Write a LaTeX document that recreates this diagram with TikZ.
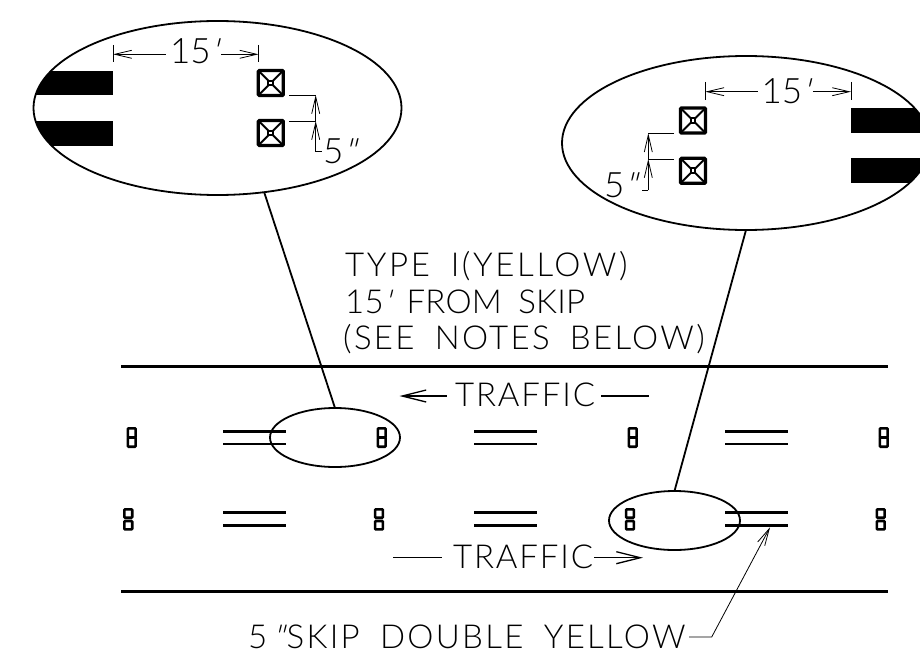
\documentclass[tikz,border=0pt]{standalone}
\usepackage{fontspec}
\usetikzlibrary{arrows.meta,shapes.geometric}
\newfontfamily\cadfont[LetterSpace=5.5,WordSpace=1.8]{Lato Light}
\newfontfamily\cadslant[FakeSlant=0.25]{Lato Light}
\newcommand{\ftmark}{{\cadslant'}}
\newcommand{\inmark}{{\cadslant"}}
\tikzset{
    lens/.style={draw, ellipse, line width=1.8pt, inner sep=0pt, outer sep=0pt},
    roadline/.style={line width=3pt},
    skipline/.style={line width=2.6pt},
    tinymark/.style={line width=2.6pt, rounded corners=0.8pt},
    dimline/.style={line width=0.8pt},
    flowline/.style={line width=1.3pt},
    dimtip/.tip={Straight Barb[length=17pt,width=8pt]},
    flowtip/.tip={Straight Barb[length=24pt,width=12pt]},
    cadtext/.style={font=\cadfont\fontsize{33}{37}\selectfont, inner sep=0pt, anchor=base west},
    dimtext/.style={font=\cadfont\addfontfeature{LetterSpace=0}\fontsize{35}{37}\selectfont, inner sep=0pt, outer sep=4pt, anchor=base west}
}
% Marcador grande visto en la lupa
\newcommand{\bigmarker}[2]{
    \draw[line width=3.2pt, rounded corners=1pt] (#1-12.5,#2-12.5) rectangle (#1+12.5,#2+12.5);
    \draw[line width=2pt] (#1-12,#2-12) -- (#1-2,#2-2) (#1+12,#2-12) -- (#1+2,#2-2)
        (#1-12,#2+12) -- (#1-2,#2+2) (#1+12,#2+12) -- (#1+2,#2+2);
    \draw[line width=2pt] (#1-2.4,#2-2.4) rectangle (#1+2.4,#2+2.4);
}
\begin{document}
\begin{tikzpicture}[x=1pt, y=-1pt]
    \clip (0,0) rectangle (920,666);

    % Dibuja la calzada
    \draw[roadline] (121,366) -- (888,366);
    \draw[roadline] (121,591) -- (888,591);

    % Dibuja las lineas dobles
    \foreach \x in {223,474,725} {
        \draw[skipline] (\x,431.7) -- (\x+62.7,431.7);
        \draw[skipline] (\x,444) -- (\x+62.7,444);
        \draw[skipline] (\x,512.7) -- (\x+62.7,512.7);
        \draw[skipline] (\x,525.3) -- (\x+62.7,525.3);
    }

    % Dibuja los marcadores pequenos
    \foreach \x in {131.7,381.7,632.7,883.7} {
        \draw[tinymark] (\x-3.9,428.3) rectangle (\x+3.9,437.5);
        \draw[tinymark] (\x-3.9,437.5) rectangle (\x+3.9,446.7);
    }
    \foreach \x in {128.3,379,630,880.7} {
        \draw[tinymark] (\x-3.9,509.3) rectangle (\x+3.9,517.7);
        \draw[tinymark] (\x-3.9,521) rectangle (\x+3.9,529.4);
    }

    % Dibuja los ovalos y las lupas
    \node[lens, minimum width=130pt, minimum height=59pt] (ovalL) at (335,437.5) {};
    \node[lens, minimum width=131pt, minimum height=59pt] (ovalR) at (674.5,520.5) {};
    \begin{scope}
        \clip (217.5,108) ellipse (184 and 87);
        \fill (0,70.7) rectangle (113,95.3);
        \fill (0,120.7) rectangle (113,145.7);
    \end{scope}
    \begin{scope}
        \clip (746,143) ellipse (184 and 87);
        \fill (851,108.3) rectangle (930,133.3);
        \fill (851,158.3) rectangle (930,183.3);
    \end{scope}
    \node[lens, minimum width=368pt, minimum height=174pt] (lensL) at (217.5,108) {};
    \node[lens, minimum width=368pt, minimum height=174pt] (lensR) at (746,143) {};
    \draw[line width=1.8pt] (lensL.-61) -- (ovalL.north);
    \draw[line width=1.8pt] (lensR.south) -- (ovalR.north);

    % Dibuja los marcadores grandes
    \bigmarker{270.8}{83}
    \bigmarker{270.8}{133}
    \bigmarker{693}{120.5}
    \bigmarker{693}{170.8}

    % Cotas de la lupa izquierda
    \node[dimtext] (distL) at (166,64) {15\ftmark};
    \coordinate (distLa) at (113,54.3);
    \coordinate (distLb) at (258.5,54.3);
    \draw[dimline] (113,45) -- (113,62);
    \draw[dimline] (258.5,45) -- (258.5,62);
    \draw[dimline, dimtip-] (distLa) -- (distL.west |- distLa);
    \draw[dimline, -dimtip] (distL.east |- distLb) -- (distLb);
    \node[dimtext] (gapL) at (319,163) {5\inmark};
    \draw[dimline] (289,95) -- (315.7,95);
    \draw[dimline] (289,121) -- (315.7,121);
    \draw[dimline, -dimtip] (315.7,121) -- (315.7,95);
    \draw[dimline, -dimtip] (315.7,151.7) -- (315.7,121);
    \draw[dimline] (315.7,151.7) -- (322,151.7);

    % Cotas de la lupa derecha
    \node[dimtext] (distR) at (757.5,104) {15\ftmark};
    \coordinate (distRa) at (705.3,91.7);
    \coordinate (distRb) at (851,91.7);
    \draw[dimline] (705.3,82) -- (705.3,100);
    \draw[dimline] (851,82) -- (851,100);
    \draw[dimline, dimtip-] (distRa) -- (distR.west |- distRa);
    \draw[dimline, -dimtip] (distR.east |- distRb) -- (distRb);
    \node[dimtext] (gapR) at (600,197) {5\inmark};
    \draw[dimline] (674,133.3) -- (648.3,133.3);
    \draw[dimline] (674,159) -- (648.3,159);
    \draw[dimline, -dimtip] (648.3,159) -- (648.3,133.3);
    \draw[dimline, -dimtip] (648.3,190) -- (648.3,159);
    \draw[dimline] (648.3,190) -- (641.7,190);

    % Textos y sentido del trafico
    \node[cadtext] (noteA) at (345,276) {\addfontfeature{LetterSpace=7.9}TYPE I(YELLOW)};
    \node[cadtext] (noteB) at (345,313) {\addfontfeature{LetterSpace=0.6}15\ftmark{} FROM SKIP};
    \node[cadtext] (noteC) at (343,349) {\addfontfeature{LetterSpace=7}(SEE NOTES BELOW)};
    \node[cadtext] (trafficA) at (455,406) {TRAFFIC};
    \node[cadtext] (trafficB) at (453,568) {TRAFFIC};
    \coordinate (tipA) at (399.5,396);
    \coordinate (tipB) at (643,557.7);
    \draw[flowline, flowtip-] (tipA) -- (447,396);
    \draw[flowline] (601,396) -- (649,396);
    \draw[flowline] (393,557.7) -- (442,557.7);
    \draw[flowline, -flowtip] (594,557.7) -- (tipB);

    % Rotulo de la linea doble
    \node[cadtext] (skip) at (248,648) {\addfontfeature{LetterSpace=7}5\hspace{5pt}\inmark\hspace{3pt}SKIP DOUBLE YELLOW};
    \coordinate (skipa) at (689,637);
    \coordinate (skipb) at (711.7,637);
    \coordinate (skipc) at (770,527.3);
    \draw[dimline, -dimtip] (skipa) -- (skipb) -- (skipc);
\end{tikzpicture}
\end{document}
